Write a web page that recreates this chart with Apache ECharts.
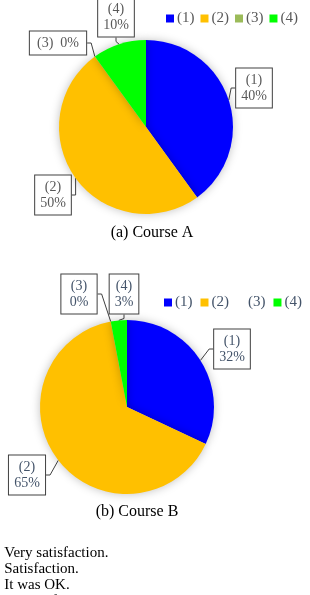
<!DOCTYPE html>
<html>
<head>
    <meta charset="utf-8">
    <script src="https://cdn.jsdelivr.net/npm/echarts@6/dist/echarts.min.js"></script>
</head>
<body style="margin:0">
    <div id="main" style="width:310px; height:595px;"></div>
</body>
<script type="text/javascript">
    // answer categories and shares (%) per course
    const categories = ['(1)', '(2)', '(3)', '(4)'];
    const courseA = [40, 50, 0, 10];
    const courseB = [32, 65, 0, 3];
    const captions = ['(a) Course A', '(b) Course B'];
    const answers = ['(1) Very satisfaction.', '(2) Satisfaction.', '(3) It was OK.', '(4) Dissatisfaction.'];

    const colors = ['#0000FF', '#FFC000', '#9BBB59', '#00FF00'];
    const serif = '"Liberation Serif", "DejaVu Serif", serif';

    // callout box centres (pixels)
    const boxA = [[254, 88], [53, 195], [58, 43], [116, 17]];
    const boxB = [[232, 349], [27, 475], [79, 294], [124, 294]];

    const myChart = echarts.init(document.getElementById('main'));

    function pieSeries(name, values, center, boxes, textColor, oneLine) {
        return {
            type: 'pie',
            name: name,
            center: center,
            radius: 87,
            startAngle: 90,
            clockwise: true,
            animation: false,
            data: values.map((v, i) => ({
                name: categories[i],
                value: v,
                itemStyle: { color: colors[i] }
            })),
            itemStyle: {
                shadowBlur: 10,
                shadowColor: 'rgba(0,0,0,0.25)'
            },
            label: {
                show: true,
                position: 'outside',
                overflow: 'none',
                formatter: p => (oneLine.indexOf(p.dataIndex) >= 0
                    ? p.name + '  ' + p.value + '%'
                    : p.name + '\n' + p.value + '%'),
                fontFamily: serif,
                fontSize: 14,
                lineHeight: 16,
                color: textColor,
                backgroundColor: '#fff',
                borderColor: '#404040',
                borderWidth: 1,
                padding: [4, 5, 3, 5],
                align: 'center'
            },
            labelLine: {
                show: true,
                length: 4,
                length2: 4,
                lineStyle: { color: '#404040', width: 1 }
            },
            labelLayout: function (p) {
                const b = boxes[p.dataIndex];
                return { x: b[0], y: b[1], align: 'center', verticalAlign: 'middle' };
            },
            emphasis: { disabled: true }
        };
    }

    function legend(top, left, gap, textColor, hidden) {
        return {
            top: top,
            left: left,
            icon: 'rect',
            itemWidth: 8,
            itemHeight: 8,
            itemGap: gap,
            selectedMode: false,
            textStyle: { fontFamily: serif, fontSize: 15, color: textColor, padding: [0, 0, 0, -2] },
            data: categories.map((c, i) => (hidden.indexOf(i) >= 0
                ? { name: c, itemStyle: { opacity: 0 } }
                : { name: c }))
        };
    }

    const option = {
        legend: [
            legend(6, 161, 6, '#595959', []),
            legend(290, 159, 8, '#44546A', [2])
        ],
        series: [
            pieSeries('Course A', courseA, [146, 127], boxA, '#595959', [2]),
            pieSeries('Course B', courseB, [127, 407], boxB, '#44546A', [])
        ],
        graphic: [
            { type: 'text', x: 152, y: 233, style: { text: captions[0], fill: '#000', font: '16px ' + serif, textAlign: 'center', textVerticalAlign: 'middle' } },
            { type: 'text', x: 137, y: 512, style: { text: captions[1], fill: '#000', font: '16px ' + serif, textAlign: 'center', textVerticalAlign: 'middle' } }
        ].concat(answers.map((t, i) => ({
            type: 'text', x: -17, y: 553 + i * 16,
            style: { text: t, fill: '#000', font: '15px ' + serif, textVerticalAlign: 'middle' }
        })))
    };
    option && myChart.setOption(option);
</script>
</html>
